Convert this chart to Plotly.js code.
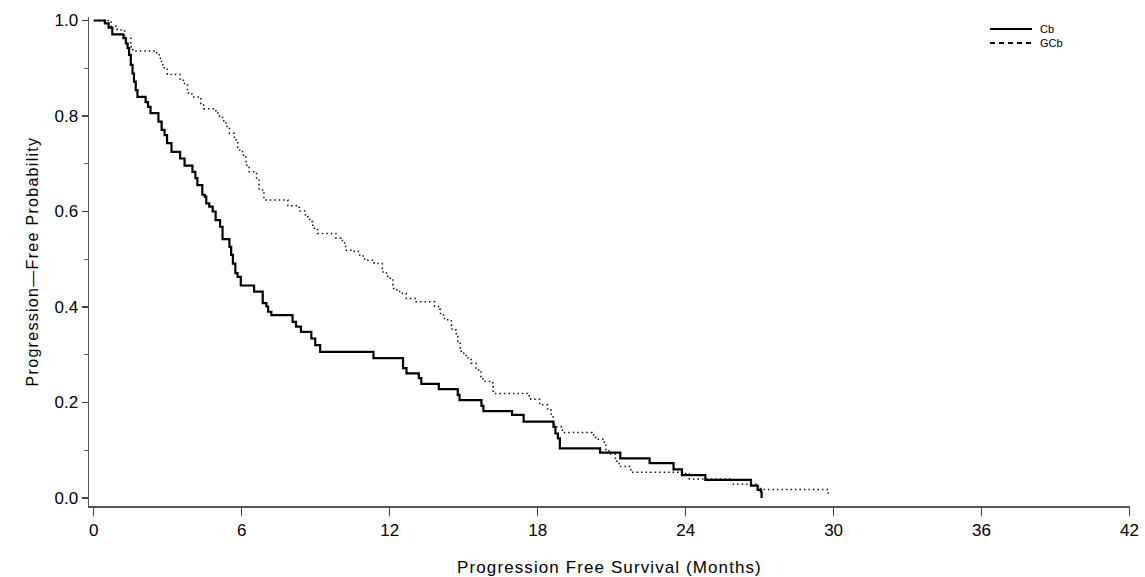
<!DOCTYPE html>
<html>
<head>
<meta charset="utf-8">
<script src="https://cdn.plot.ly/plotly-3.0.1.min.js"></script>
<style>
html,body{margin:0;padding:0;background:#fff;}
#chart{width:1145px;height:577px;}
#chart .xtitle{letter-spacing:1.1px;}
#chart .ytitle{letter-spacing:1.3px;}
</style>
</head>
<body>
<div id="chart"></div>
<script>
// Kaplan-Meier step data (time in months, survival after step)
const cbTime = [0,0.45,0.6,0.75,1.2,1.3,1.37,1.43,1.5,1.57,1.63,1.7,1.77,2.1,2.2,2.3,2.62,2.75,2.87,2.97,3.15,3.5,3.68,4.0,4.12,4.2,4.4,4.5,4.56,4.68,4.82,4.94,5.12,5.22,5.5,5.57,5.64,5.74,5.83,5.96,6.5,6.85,7.0,7.07,7.2,8.06,8.2,8.4,8.82,8.98,9.18,11.34,12.54,12.68,13.18,13.28,13.99,14.76,14.83,15.72,15.8,16.96,17.43,18.64,18.72,18.82,18.9,20.53,21.35,22.54,23.51,23.85,24.8,26.65,26.92,27.05,27.08];
const cbSurv = [1.0,0.994,0.985,0.971,0.963,0.952,0.942,0.928,0.907,0.889,0.872,0.854,0.84,0.829,0.819,0.806,0.788,0.771,0.76,0.743,0.725,0.711,0.696,0.683,0.67,0.655,0.635,0.631,0.617,0.61,0.6,0.582,0.568,0.542,0.526,0.509,0.491,0.471,0.463,0.445,0.432,0.408,0.401,0.39,0.383,0.369,0.359,0.348,0.334,0.32,0.306,0.293,0.272,0.261,0.251,0.239,0.228,0.216,0.205,0.193,0.182,0.174,0.16,0.149,0.135,0.125,0.104,0.095,0.083,0.073,0.06,0.048,0.038,0.026,0.017,0.013,0.0];

const gcbTime = [0,0.7,0.95,1.25,1.5,1.58,2.55,2.7,2.8,2.98,3.5,3.68,3.8,3.98,4.34,4.45,4.95,5.1,5.22,5.36,5.5,5.7,5.84,6.03,6.17,6.3,6.6,6.7,6.9,7.87,8.33,8.58,8.75,8.88,9.07,9.82,10.02,10.17,10.21,10.56,10.78,10.98,11.37,11.7,11.73,11.92,12.13,12.16,12.4,12.67,13.07,13.82,14.02,14.06,14.22,14.5,14.53,14.7,14.76,14.86,14.9,15.1,15.3,15.5,15.7,15.78,16.18,16.2,17.58,17.72,18.08,18.4,18.55,18.62,18.68,19.0,20.2,20.35,20.7,20.77,20.9,21.15,21.3,21.78,24.0,24.15,25.9,26.95,27.1,29.78];
const gcbSurv = [1.0,0.988,0.98,0.963,0.945,0.936,0.928,0.914,0.901,0.887,0.875,0.865,0.848,0.84,0.826,0.815,0.806,0.799,0.79,0.778,0.764,0.75,0.729,0.718,0.697,0.683,0.666,0.645,0.624,0.612,0.601,0.589,0.579,0.565,0.554,0.544,0.539,0.53,0.519,0.516,0.507,0.498,0.491,0.481,0.471,0.46,0.446,0.436,0.429,0.418,0.411,0.401,0.395,0.383,0.373,0.362,0.352,0.338,0.324,0.314,0.303,0.293,0.282,0.268,0.254,0.244,0.233,0.219,0.214,0.207,0.195,0.184,0.17,0.16,0.149,0.137,0.132,0.123,0.113,0.101,0.092,0.077,0.066,0.054,0.05,0.04,0.029,0.02,0.018,0.008];

const seriesNames = ['Cb','GCb'];
const xTicks = [0,6,12,18,24,30,36,42];
const yTicks = [0,0.2,0.4,0.6,0.8,1.0];

const traces = [
  {x: cbTime, y: cbSurv, mode:'lines', name: seriesNames[0], line:{shape:'hv', color:'#000', width:2.2}, showlegend:false, hoverinfo:'skip'},
  {x: gcbTime, y: gcbSurv, mode:'lines', name: seriesNames[1], line:{shape:'hv', color:'#111', width:1.5, dash:'1.5px,3px'}, showlegend:false, hoverinfo:'skip'}
];

const font = 'Liberation Sans, Arial, sans-serif';

// Legend drawn as key lines + labels (paper coordinates)
const legX0 = (990-89)/1041, legX1 = (1032-89)/1041, legTx = (1038-89)/1041;
const legY = [(506-29)/489, (506-43)/489];
const shapes = [
  {type:'line', xref:'paper', yref:'paper', x0:legX0, x1:legX1, y0:legY[0], y1:legY[0], line:{color:'#000', width:2}},
  {type:'line', xref:'paper', yref:'paper', x0:legX0, x1:legX1, y0:legY[1], y1:legY[1], line:{color:'#000', width:2, dash:'5px,4px'}}
];
const annotations = seriesNames.map((n,i)=>({
  xref:'paper', yref:'paper', x:legTx, y:legY[i], text:n, showarrow:false,
  xanchor:'left', yanchor:'middle', font:{family:font, size:11, color:'#000'}
}));

const layout = {
  width:1145, height:577,
  margin:{l:89, r:15, t:17, b:71},
  paper_bgcolor:'#fff', plot_bgcolor:'#fff',
  font:{family:font, color:'#000', size:14},
  showlegend:false,
  shapes: shapes,
  annotations: annotations,
  xaxis:{
    range:[-0.195, 42.02], tickvals:xTicks, ticktext:xTicks.map(String),
    showgrid:false, zeroline:false, showline:true, linecolor:'#555', linewidth:1.5,
    ticks:'outside', ticklen:8, tickwidth:1.2, tickcolor:'#444',
    tickfont:{family:font, size:17},
    title:{text:'Progression Free Survival (Months)', font:{family:font, size:17}, standoff:22}
  },
  yaxis:{
    range:[-0.0168, 1.0073], tickvals:yTicks, tickformat:'.1f',
    showgrid:false, zeroline:false, showline:true, linecolor:'#555', linewidth:1.5,
    ticks:'outside', ticklen:6, tickwidth:1.2, tickcolor:'#444',
    minor:{dtick:0.1, tick0:0, ticks:'outside', ticklen:4, tickcolor:'#666', tickwidth:1},
    tickfont:{family:font, size:17},
    title:{text:'Progression\u2014Free Probability', font:{family:font, size:16}, standoff:12}
  }
};

Plotly.newPlot('chart', traces, layout, {displayModeBar:false, staticPlot:true});
</script>
</body>
</html>
